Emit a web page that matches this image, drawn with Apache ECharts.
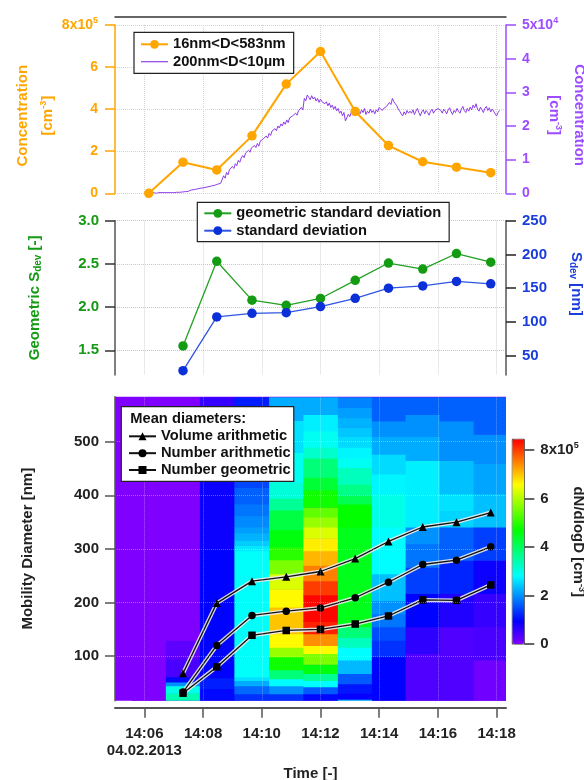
<!DOCTYPE html>
<html>
<head>
<meta charset="utf-8">
<script src="https://cdn.jsdelivr.net/npm/echarts@6.0.0/dist/echarts.min.js"></script>
<style>
  html, body { margin: 0; padding: 0; background: #fff; }
  #chart { width: 584px; height: 780px; }
</style>
</head>
<body>
<div id="chart"></div>
<script>
// scan times of the SMPS size spectra
const scanTimes = ['14:06:09', '14:07:19', '14:08:28', '14:09:40', '14:10:50', '14:12:00',
  '14:13:11', '14:14:19', '14:15:29', '14:16:38', '14:17:48'];
// 16nm<D<583nm, x1e5 cm-3
const totalConc = [0.0, 1.48, 1.11, 2.73, 5.19, 6.74, 3.89, 2.27, 1.50, 1.24, 0.98];
// 200nm<D<10um, x1e4 cm-3, one sample every 3 s
const coarseStart = '14:06:06';
const coarseStepSec = 3;
const coarseConc = [
  0.00, 0.01, 0.00, 0.01, 0.02, 0.01, 0.00, 0.01, 0.02, 0.01, 0.02, 0.01, 0.02, 0.03, 0.02, 0.01, 0.02, 0.03, 0.02, 0.03,
  0.03, 0.04, 0.03, 0.05, 0.04, 0.06, 0.05, 0.07, 0.06, 0.08, 0.10, 0.09, 0.11, 0.10, 0.13, 0.12, 0.15, 0.13, 0.16, 0.15,
  0.18, 0.17, 0.20, 0.19, 0.22, 0.20, 0.24, 0.23, 0.27, 0.25, 0.30, 0.28, 0.52, 0.45, 0.62, 0.55, 0.70, 0.66, 0.80, 0.74,
  0.88, 0.82, 0.98, 0.92, 1.05, 1.12, 1.06, 1.20, 1.15, 1.28, 1.22, 1.35, 1.30, 1.42, 1.36, 1.48, 1.40, 1.55, 1.50, 1.62,
  1.58, 1.70, 1.64, 1.78, 1.72, 1.85, 1.80, 1.92, 1.86, 2.00, 1.94, 2.06, 2.00, 2.12, 2.05, 2.18, 2.10, 2.24, 2.20, 2.30,
  2.25, 2.38, 2.32, 2.45, 2.40, 2.55, 2.48, 2.82, 2.75, 2.92, 2.85, 2.78, 2.90, 2.80, 2.86, 2.74, 2.82, 2.70, 2.80, 2.72,
  2.76, 2.66, 2.72, 2.60, 2.68, 2.55, 2.62, 2.50, 2.58, 2.45, 2.52, 2.38, 2.44, 2.30, 2.40, 2.15, 2.25, 2.35, 2.28, 2.40,
  2.32, 2.46, 2.38, 2.50, 2.42, 2.36, 2.48, 2.40, 2.52, 2.34, 2.44, 2.38, 2.50, 2.40, 2.46, 2.36, 2.48, 2.42, 2.55, 2.50,
  2.46, 2.52, 2.48, 2.58, 2.54, 2.70, 2.64, 2.82, 2.72, 2.66, 2.60, 2.50, 2.44, 2.36, 2.30, 2.42, 2.34, 2.46, 2.38, 2.44,
  2.38, 2.48, 2.34, 2.44, 2.52, 2.40, 2.30, 2.42, 2.48, 2.36, 2.46, 2.40, 2.32, 2.44, 2.50, 2.38, 2.46, 2.42, 2.52, 2.56,
  2.46, 2.38, 2.50, 2.44, 2.36, 2.48, 2.54, 2.42, 2.34, 2.46, 2.40, 2.52, 2.44, 2.38, 2.50, 2.58, 2.46, 2.40, 2.52, 2.44,
  2.56, 2.48, 2.62, 2.54, 2.66, 2.50, 2.44, 2.56, 2.48, 2.40, 2.52, 2.58, 2.46, 2.54, 2.42, 2.50, 2.44, 2.36, 2.30, 2.40,
  2.46
];
// standard deviations of the spectra
const geoSdev = [null, 1.55, 2.53, 2.08, 2.02, 2.10, 2.31, 2.51, 2.44, 2.62, 2.52];
const sdev = [null, 27.8, 107.4, 112.7, 113.8, 122.7, 135, 150, 153.4, 160, 156.5];
// mean diameters, nm
const volumeArith = [null, 68, 199, 240, 248, 258, 282, 314, 341, 350, 368];
const numberArith = [null, 33, 120, 176, 184, 190, 209, 238, 271, 279, 304];
const numberGeom = [null, 31, 80, 139, 148, 150, 160, 175, 205, 204, 233];
// dN/dlogD per scan as [D from, D to, value x1e5 cm-3]
const sizeDist = [
  [[16, 583, 0]],
  [[16, 31, 3.4], [31, 45, 3.0], [45, 52, 2.0], [52, 62, 1.0], [62, 95, 0.4], [95, 130, 0.25], [130, 583, 0]],
  [[16, 40, 1.0], [40, 60, 1.15], [60, 300, 0.95], [300, 450, 0.85], [450, 540, 0.7], [540, 583, 0.55]],
  [[16, 30, 1.3], [30, 45, 1.7], [45, 55, 2.2], [55, 62, 2.6], [62, 297, 2.85], [297, 307, 2.65], [307, 316, 2.45],
    [316, 330, 2.25], [330, 341, 2.1], [341, 362, 1.95], [362, 384, 1.8], [384, 415, 1.65], [415, 480, 1.45],
    [480, 564, 1.35], [564, 583, 1.15]],
  [[16, 30, 1.3], [30, 45, 2.0], [45, 58, 2.8], [58, 75, 3.8], [75, 99, 4.8], [99, 117, 5.8], [117, 142, 6.6],
    [142, 192, 7.0], [192, 225, 6.6], [225, 254, 6.3], [254, 280, 5.6], [280, 304, 5.0], [304, 336, 4.6],
    [336, 373, 4.2], [373, 395, 3.6], [395, 425, 3.1], [425, 480, 2.9], [480, 540, 2.6], [540, 583, 2.2]],
  [[16, 30, 1.0], [30, 43, 1.6], [43, 55, 2.8], [55, 68, 3.6], [68, 85, 4.6], [85, 105, 5.6], [105, 120, 6.6],
    [120, 142, 7.4], [142, 165, 8.2], [165, 215, 8.4], [215, 241, 8.0], [241, 270, 7.5], [270, 297, 7.1],
    [297, 320, 6.7], [320, 341, 6.3], [341, 360, 5.8], [360, 378, 5.4], [378, 410, 4.8], [410, 434, 4.3],
    [434, 470, 3.8], [470, 490, 3.2], [490, 520, 2.9], [520, 551, 2.7], [551, 583, 2.2]],
  [[16, 20, 2.6], [20, 31, 0.9], [31, 49, 1.1], [49, 68, 1.6], [68, 93, 2.3], [93, 117, 2.8], [117, 135, 3.3],
    [135, 155, 3.8], [155, 341, 4.5], [341, 384, 4.7], [384, 400, 4.1], [400, 421, 3.7], [421, 452, 3.3],
    [452, 470, 2.9], [470, 490, 2.75], [490, 510, 2.55], [510, 527, 2.4], [527, 545, 2.25], [545, 564, 2.1],
    [564, 583, 1.9]],
  [[16, 99, 0.95], [99, 130, 1.3], [130, 155, 1.5], [155, 180, 1.8], [180, 204, 2.0], [204, 254, 2.35],
    [254, 341, 2.8], [341, 403, 3.0], [403, 440, 2.75], [440, 477, 2.55], [477, 510, 2.2], [510, 539, 2.0],
    [539, 583, 1.65]],
  [[16, 105, 0.35], [105, 155, 0.6], [155, 217, 0.95], [217, 266, 1.4], [266, 310, 1.8], [310, 341, 2.0],
    [341, 465, 2.7], [465, 510, 2.2], [510, 551, 2.0], [551, 583, 1.65]],
  [[16, 155, 0.35], [155, 217, 0.7], [217, 279, 1.2], [279, 341, 1.65], [341, 372, 2.5], [372, 403, 2.6],
    [403, 465, 2.35], [465, 539, 2.0], [539, 583, 1.65]],
  [[16, 93, 0.12], [93, 155, 0.4], [155, 217, 0.55], [217, 279, 0.85], [279, 341, 1.4], [341, 403, 2.35],
    [403, 460, 2.15], [460, 514, 2.0], [514, 583, 1.65]]
];
// tick values
const timeTicks = [6, 8, 10, 12, 14, 16, 18];
const concTicks = [0, 2, 4, 6, 8];
const coarseTicks = [0, 1, 2, 3, 4, 5];
const geoTicks = [1.5, 2.0, 2.5, 3.0];
const sdevTicks = [50, 100, 150, 200, 250];
const diamTicks = [100, 200, 300, 400, 500];
const colorTicks = [0, 2, 4, 6, 8];

const FONT = 'Liberation Sans, Arial, sans-serif';
const ORANGE = '#ffa500';
const PURPLE = '#9d4dff';
const PURPLE_LINE = '#8c3ce6';
const GREEN = '#159a15';
const BLUE = '#1a3ddb';

// minutes after 14:00
const toMin = (s) => {
  const p = s.split(':').map(Number);
  return (p[0] - 14) * 60 + p[1] + p[2] / 60;
};
const scanX = scanTimes.map(toMin);
const coarseX0 = toMin(coarseStart);

// cell borders halfway between neighbouring scans
const scanEdges = scanX.map((t, i) => {
  const prev = i > 0 ? scanX[i - 1] : t - (scanX[1] - scanX[0]);
  const next = i < scanX.length - 1 ? scanX[i + 1] : t + (t - scanX[i - 1]);
  return [(prev + t) / 2, (t + next) / 2];
});
const heatData = [];
sizeDist.forEach((bands, i) => {
  bands.forEach((b) => {
    heatData.push([scanEdges[i][0], scanEdges[i][1], b[0], b[1], b[2]]);
  });
});

const pair = (arr) => scanX.map((t, i) => [t, arr[i]]);
const bold = (size, color) => ({ fontFamily: FONT, fontWeight: 'bold', fontSize: size, color: color });
const supStyle = (color) => ({ fontFamily: FONT, fontWeight: 'bold', fontSize: 9, color: color, padding: [0, 0, 8, 0] });
const subStyle = (color) => ({ fontFamily: FONT, fontWeight: 'bold', fontSize: 10, color: color, padding: [7, 0, 0, 0] });

const timeBase = { type: 'value', min: 5.0, max: 18.32, splitNumber: 7, nameMoveOverlap: false };
const timeLabel = (v) => {
  const s = '14:' + String(v).padStart(2, '0');
  return v === 6 ? s + '\n04.02.2013' : s;
};
const gridBase = { outerBoundsMode: 'none', containLabel: false };

const chart = echarts.init(document.getElementById('chart'));

const option = {
  animation: false,
  backgroundColor: '#fff',
  textStyle: { fontFamily: FONT },
  grid: [
    { ...gridBase, left: 115, right: 78, top: 25, height: 168.3 },
    { ...gridBase, left: 115, right: 78, top: 220.7, height: 154.3 },
    { ...gridBase, left: 115, right: 78, top: 396.7, height: 304, show: true, backgroundColor: '#8000ff', borderWidth: 0 },
    { ...gridBase, left: 512.3, top: 439.3, width: 12, height: 204.7, show: true, borderColor: '#333', borderWidth: 1 }
  ],
  xAxis: [
    {
      ...timeBase, gridIndex: 0, position: 'top', offset: 8,
      axisLine: { show: true, onZero: false, lineStyle: { color: '#333', width: 1.5 } },
      axisTick: { show: false, customValues: timeTicks },
      axisLabel: { show: false, customValues: timeTicks },
      splitLine: { show: true, lineStyle: { color: '#d4d4d4', type: 'dotted' } }
    },
    {
      ...timeBase, gridIndex: 1,
      axisLine: { show: false, onZero: false },
      axisTick: { show: false, customValues: timeTicks },
      axisLabel: { show: false, customValues: timeTicks },
      splitLine: { show: true, lineStyle: { color: '#d4d4d4', type: 'dotted' } }
    },
    {
      ...timeBase, gridIndex: 2, position: 'bottom', offset: 7, z: 10,
      axisLine: { show: true, onZero: false, lineStyle: { color: '#555', width: 2 } },
      axisTick: { show: true, inside: false, length: 10, customValues: timeTicks, lineStyle: { color: '#555', width: 1.5 } },
      axisLabel: { customValues: timeTicks, margin: 17, formatter: timeLabel, lineHeight: 17.5, ...bold(15, '#222') },
      splitLine: { show: true, lineStyle: { color: 'rgba(255,255,255,0.35)', type: 'dotted' } },
      name: 'Time [-]', nameLocation: 'middle', nameGap: 58.5,
      nameTextStyle: bold(15, '#222')
    },
    { type: 'value', gridIndex: 3, show: false, min: 0, max: 1 }
  ],
  yAxis: [
    {
      type: 'value', gridIndex: 0, position: 'left', min: 0, max: 8, interval: 2, nameMoveOverlap: false,
      axisLine: { show: true, onZero: false, lineStyle: { color: ORANGE, width: 1.5 } },
      axisTick: { show: true, inside: false, length: 10, customValues: concTicks, lineStyle: { color: ORANGE, width: 1.5 } },
      axisLabel: {
        customValues: concTicks, margin: 17, ...bold(14, ORANGE),
        formatter: (v) => (v === 8 ? '8x10{sup|5}' : String(v)),
        rich: { sup: supStyle(ORANGE) }
      },
      splitLine: { show: true, lineStyle: { color: '#d4d4d4', type: 'dotted' } },
      name: '{a|Concentration}\n{a|[cm}{sup|-3}{a|]}', nameLocation: 'middle', nameRotate: 90, nameGap: 55,
      nameTextStyle: { padding: [0, 13, 0, 0], rich: { a: { ...bold(15, ORANGE), lineHeight: 25 }, sup: supStyle(ORANGE) } }
    },
    {
      type: 'value', gridIndex: 0, position: 'right', min: 0, max: 5, interval: 1, nameMoveOverlap: false,
      axisLine: { show: true, onZero: false, lineStyle: { color: PURPLE, width: 1.5 } },
      axisTick: { show: true, inside: false, length: 10, customValues: coarseTicks, lineStyle: { color: PURPLE, width: 1.5 } },
      axisLabel: {
        customValues: coarseTicks, margin: 16, ...bold(14, PURPLE),
        formatter: (v) => (v === 5 ? '5x10{sup|4}' : String(v)),
        rich: { sup: supStyle(PURPLE) }
      },
      splitLine: { show: false },
      name: '{a|Concentration}\n{a|[cm}{sup|-3}{a|]}', nameLocation: 'middle', nameRotate: -90, nameGap: 35.5,
      nameTextStyle: { padding: [0, 0, 0, 12], rich: { a: { ...bold(15, PURPLE), lineHeight: 25 }, sup: supStyle(PURPLE) } }
    },
    {
      type: 'value', gridIndex: 1, position: 'left', min: 1.214, max: 3.0, splitNumber: 4, nameMoveOverlap: false,
      axisLine: { show: true, onZero: false, lineStyle: { color: '#555', width: 1.5 } },
      axisTick: { show: true, inside: false, length: 10, customValues: geoTicks, lineStyle: { color: '#333', width: 1.5 } },
      axisLabel: { customValues: geoTicks, margin: 16, ...bold(15, GREEN), formatter: (v) => v.toFixed(1) },
      splitLine: { show: true, lineStyle: { color: '#a8dca8', type: 'dotted' } },
      name: '{a|Geometric S}{sub|dev}{a| [-]}', nameLocation: 'middle', nameRotate: 90, nameGap: 72,
      nameTextStyle: { rich: { a: bold(15, GREEN), sub: subStyle(GREEN) } }
    },
    {
      type: 'value', gridIndex: 1, position: 'right', min: 21.4, max: 250, splitNumber: 5, nameMoveOverlap: false,
      axisLine: { show: true, onZero: false, lineStyle: { color: '#555', width: 1.5 } },
      axisTick: { show: true, inside: false, length: 10, customValues: sdevTicks, lineStyle: { color: '#222', width: 1.5 } },
      axisLabel: { customValues: sdevTicks, margin: 16, ...bold(15, BLUE) },
      splitLine: { show: false },
      name: '{a|S}{sub|dev}{a| [nm]}', nameLocation: 'middle', nameRotate: -90, nameGap: 62,
      nameTextStyle: { padding: [0, 28, 0, 0], rich: { a: bold(15, BLUE), sub: subStyle(BLUE) } }
    },
    {
      type: 'value', gridIndex: 2, position: 'left', min: 17, max: 584, z: 10, nameMoveOverlap: false,
      axisLine: { show: true, onZero: false, lineStyle: { color: '#555', width: 1.5 } },
      axisTick: { show: true, inside: false, length: 10, customValues: diamTicks, lineStyle: { color: '#555', width: 1.5 } },
      axisLabel: { customValues: diamTicks, margin: 16, ...bold(15, '#222') },
      splitLine: { show: true, lineStyle: { color: 'rgba(255,255,255,0.35)', type: 'dotted' } },
      name: 'Mobility Diameter [nm]', nameLocation: 'middle', nameRotate: 90, nameGap: 79.5,
      nameTextStyle: bold(15, '#222')
    },
    {
      type: 'value', gridIndex: 3, position: 'right', min: 0, max: 8.44, nameMoveOverlap: false,
      axisLine: { show: false, onZero: false },
      axisTick: { show: true, inside: false, length: 10, customValues: colorTicks, lineStyle: { color: '#333', width: 1.5 } },
      axisLabel: {
        customValues: colorTicks, margin: 16, ...bold(15, '#222'),
        formatter: (v) => (v === 8 ? '8x10{sup|5}' : String(v)),
        rich: { sup: supStyle('#222') }
      },
      splitLine: { show: false },
      name: 'dN/dlogD [cm{sup|-3}]', nameLocation: 'middle', nameRotate: -90, nameGap: 45,
      nameTextStyle: { ...bold(15, '#222'), rich: { sup: supStyle('#222') } }
    }
  ],
  visualMap: {
    type: 'continuous', seriesIndex: 4, dimension: 4, min: 0, max: 8.44,
    calculable: false, hoverLink: false, text: null, padding: 0,
    left: 512.3, top: 439.3, itemWidth: 12, itemHeight: 204.7,
    inRange: { color: ['#8000ff', '#0000ff', '#0080ff', '#00ffff', '#00ff80', '#00ff00', '#80ff00', '#ffff00', '#ff8000', '#ff0000'] }
  },
  title: {
    text: 'Mean diameters:', left: 130.3, top: 410.5, padding: 0, z: 13,
    textStyle: { ...bold(14.7, '#111'), lineHeight: 17 }
  },
  legend: [
    {
      left: 134, top: 32.3, orient: 'vertical', selectedMode: false, z: 12,
      padding: [3.3, 8, 3, 6], itemGap: 0, itemWidth: 27, itemHeight: 11,
      backgroundColor: '#fff', borderColor: '#222', borderWidth: 1.2,
      textStyle: { ...bold(14.7, '#111'), lineHeight: 17.4 },
      data: ['16nm<D<583nm', { name: '200nm<D<10µm', icon: 'path://M0,0H30V1.3H0Z' }]
    },
    {
      left: 197.3, top: 202.3, orient: 'vertical', selectedMode: false, z: 12,
      padding: [2.3, 8, 2.3, 6], itemGap: 0, itemWidth: 27, itemHeight: 11,
      backgroundColor: '#fff', borderColor: '#222', borderWidth: 1.2,
      textStyle: { ...bold(14.7, '#111'), lineHeight: 17.4 },
      data: ['geometric standard deviation', 'standard deviation']
    },
    {
      left: 121.3, top: 406.7, orient: 'vertical', selectedMode: false, z: 12,
      padding: [21.2, 3, 2.9, 6.7], itemGap: 0, itemWidth: 27, itemHeight: 10,
      backgroundColor: '#fff', borderColor: '#222', borderWidth: 1.2,
      textStyle: { ...bold(14.7, '#111'), lineHeight: 16.85 },
      data: ['Volume arithmetic', 'Number arithmetic', 'Number geometric']
    }
  ],
  series: [
    {
      name: '16nm<D<583nm', type: 'line', xAxisIndex: 0, yAxisIndex: 0, z: 4,
      data: pair(totalConc), symbol: 'circle', symbolSize: 9.5,
      lineStyle: { color: ORANGE, width: 2 }, itemStyle: { color: ORANGE }
    },
    {
      name: '200nm<D<10µm', type: 'line', xAxisIndex: 0, yAxisIndex: 1, z: 3,
      data: coarseConc.map((v, i) => [coarseX0 + i * coarseStepSec / 60, v]),
      symbol: 'none', lineStyle: { color: PURPLE_LINE, width: 1 }, itemStyle: { color: PURPLE_LINE }
    },
    {
      name: 'geometric standard deviation', type: 'line', xAxisIndex: 1, yAxisIndex: 2, z: 4,
      data: pair(geoSdev), symbol: 'circle', symbolSize: 9.5,
      lineStyle: { color: '#22a022', width: 1.3 }, itemStyle: { color: '#139c13' }
    },
    {
      name: 'standard deviation', type: 'line', xAxisIndex: 1, yAxisIndex: 3, z: 4,
      data: pair(sdev), symbol: 'circle', symbolSize: 9.5,
      lineStyle: { color: '#2f55e2', width: 1.3 }, itemStyle: { color: '#0c30d8' }
    },
    {
      name: 'dN/dlogD', type: 'custom', xAxisIndex: 2, yAxisIndex: 4, z: 2,
      encode: { x: [0, 1], y: [2, 3] },
      data: heatData,
      renderItem: (params, api) => {
        const p0 = api.coord([api.value(0), api.value(3)]);
        const p1 = api.coord([api.value(1), api.value(2)]);
        const cs = params.coordSys;
        const rect = echarts.graphic.clipRectByRect(
          { x: p0[0], y: p0[1], width: p1[0] - p0[0] + 0.6, height: p1[1] - p0[1] + 0.6 },
          { x: cs.x, y: cs.y, width: cs.width, height: cs.height }
        );
        if (!rect) return null;
        return { type: 'rect', shape: rect, style: { fill: api.visual('color') } };
      }
    },
    ...[volumeArith, numberArith, numberGeom].map((arr) => ({
      name: '', type: 'line', xAxisIndex: 2, yAxisIndex: 4, z: 5, silent: true,
      data: pair(arr), symbol: 'none', lineStyle: { color: 'rgba(235,235,235,0.9)', width: 4 }
    })),
    ...[['Volume arithmetic', volumeArith, 'triangle', 8],
      ['Number arithmetic', numberArith, 'circle', 7.5],
      ['Number geometric', numberGeom, 'rect', 7.5]].map((s) => ({
      name: s[0], type: 'line', xAxisIndex: 2, yAxisIndex: 4, z: 6,
      data: pair(s[1]), symbol: s[2], symbolSize: s[3],
      lineStyle: { color: '#111', width: 1.3 }, itemStyle: { color: '#000' }
    }))
  ]
};

chart.setOption(option);
</script>
</body>
</html>
